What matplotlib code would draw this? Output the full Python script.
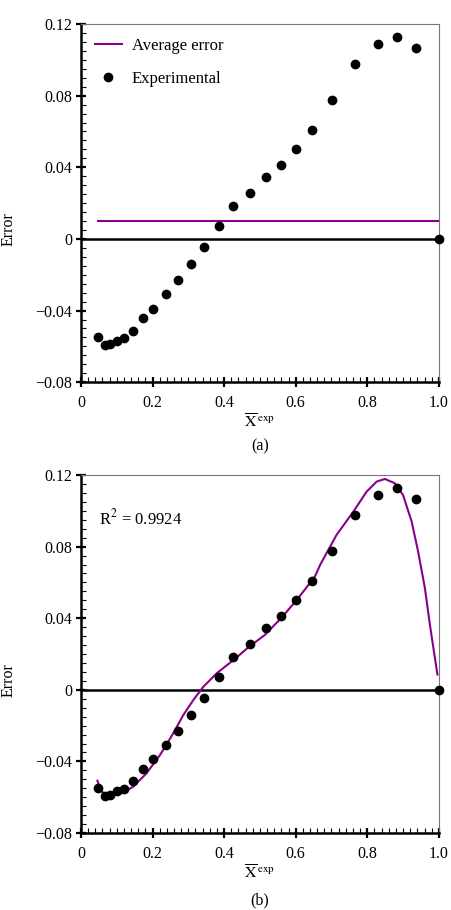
import matplotlib
matplotlib.use("Agg")
import matplotlib.pyplot as plt
from matplotlib.ticker import MultipleLocator

plt.rcParams['font.family'] = ['Liberation Serif', 'DejaVu Serif']
plt.rcParams['mathtext.fontset'] = 'stix'

x_exp = [0.0486, 0.066, 0.082, 0.101, 0.120, 0.145, 0.174, 0.201, 0.238, 0.271,
         0.307, 0.343, 0.387, 0.425, 0.472, 0.516, 0.558, 0.601, 0.645, 0.701,
         0.765, 0.830, 0.883, 0.936, 1.0]
err_exp = [-0.0546, -0.0591, -0.0587, -0.0568, -0.0555, -0.0512, -0.0441, -0.0389,
           -0.0310, -0.0228, -0.0140, -0.0043, 0.0073, 0.0185, 0.0258, 0.0346,
           0.0413, 0.0501, 0.0609, 0.0776, 0.0978, 0.1088, 0.1127, 0.1065, 0.0]
avg_error = 0.0101
avg_x = [0.0486, 1.0]

fit_x = [0.046, 0.058, 0.072, 0.095, 0.118, 0.146, 0.183, 0.221, 0.258, 0.286,
         0.314, 0.342, 0.379, 0.426, 0.467, 0.514, 0.561, 0.607, 0.654, 0.668,
         0.714, 0.761, 0.798, 0.826, 0.849, 0.877, 0.900, 0.924, 0.942, 0.961,
         0.975, 0.989, 0.996]
fit_y = [-0.0508, -0.0569, -0.0584, -0.0588, -0.0575, -0.0541, -0.0467, -0.0364,
         -0.0243, -0.0141, -0.0057, 0.0017, 0.0092, 0.0166, 0.0236, 0.0307, 0.0404,
         0.0512, 0.0634, 0.0697, 0.0865, 0.0995, 0.1107, 0.1163, 0.1178, 0.1154,
         0.1088, 0.0939, 0.0772, 0.0567, 0.0362, 0.0176, 0.0085]

xticks = [0, 0.2, 0.4, 0.6, 0.8, 1.0]
xticklabels = ['0', '0.2', '0.4', '0.6', '0.8', '1.0']
yticks = [-0.08, -0.04, 0, 0.04, 0.08, 0.12]
yticklabels = ['\u22120.08', '\u22120.04', '0', '0.04', '0.08', '0.12']

purple = '#8a008a'

fig = plt.figure(figsize=(4.52, 9.10), dpi=100)
ax1 = fig.add_axes([0.179, 0.580, 0.792, 0.3936])
ax2 = fig.add_axes([0.179, 0.0846, 0.792, 0.3934])

def style(ax):
    ax.set_xlim(0, 1.0)
    ax.set_ylim(-0.08, 0.12)
    ax.set_xticks(xticks)
    ax.set_xticklabels(xticklabels)
    ax.set_yticks(yticks)
    ax.set_yticklabels(yticklabels)
    ax.xaxis.set_minor_locator(MultipleLocator(0.02))
    ax.yaxis.set_minor_locator(MultipleLocator(0.005))
    ax.tick_params(which='major', direction='inout', length=7, width=1.6, labelsize=11.5, color='black')
    ax.tick_params(which='minor', direction='in', length=3.5, width=0.8, color='black')
    ax.tick_params(axis='x', pad=6)
    ax.tick_params(axis='y', pad=3)
    for s in ['left', 'bottom']:
        ax.spines[s].set_linewidth(1.8)
        ax.spines[s].set_color('black')
    for s in ['top', 'right']:
        ax.spines[s].set_linewidth(0.8)
        ax.spines[s].set_color('#777777')
    ax.axhline(0, color='black', lw=1.8, zorder=2)
    ax.set_ylabel('Error', fontsize=11.5)
    ax.yaxis.set_label_coords(-0.18, 0.427)
    ax.set_xlabel(r'$\overline{\mathrm{X}}^{\,\mathrm{exp}}$', fontsize=11.5, labelpad=2)

style(ax1)
ax1.plot(avg_x, [avg_error, avg_error], color=purple, lw=1.5, label='Average error', zorder=3)
ax1.plot(x_exp, err_exp, 'o', color='black', ms=6, label='Experimental', zorder=4, clip_on=False)
ax1.legend(loc='upper left', frameon=False, fontsize=12, handlelength=1.6, handletextpad=0.6,
           borderaxespad=0.35, labelspacing=1.0, borderpad=0.5)
fig.text(0.575, 0.509, '(a)', ha='center', va='center', fontsize=11.5)

style(ax2)
ax2.plot(fit_x, fit_y, color=purple, lw=1.5, zorder=3)
ax2.plot(x_exp, err_exp, 'o', color='black', ms=6, zorder=4, clip_on=False)
ax2.text(0.05, 0.88, r'R$^{2}$ = 0.9924', transform=ax2.transAxes, fontsize=12, va='center')
fig.text(0.575, 0.011, '(b)', ha='center', va='center', fontsize=11.5)

fig.savefig('out.png', dpi=100)
